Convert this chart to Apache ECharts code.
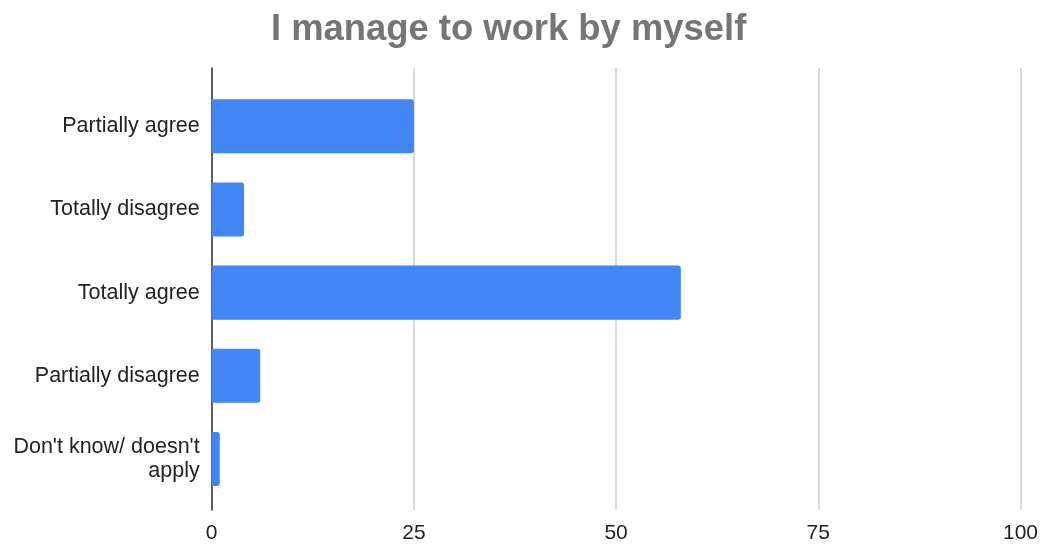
<!DOCTYPE html>
<html>
<head>
<meta charset="utf-8">
<script src="https://cdn.jsdelivr.net/npm/echarts@6/dist/echarts.min.js"></script>
<style>
  html, body { margin: 0; padding: 0; background: #fff; }
  #chart { width: 1043px; height: 544px; }
</style>
</head>
<body>
<div id="chart"></div>
<script>
// Survey answers and their counts
const categories = [
  "Partially agree",
  "Totally disagree",
  "Totally agree",
  "Partially disagree",
  "Don't know/ doesn't\napply"
];
const counts = [25, 4, 58, 6, 1];
const xTicks = [0, 25, 50, 75, 100];

const FONT = "'Liberation Sans', Arial, sans-serif";
const plotLeft = 211.7;
const plotRight = 22.5;

const chart = echarts.init(document.getElementById('chart'), null, { renderer: 'canvas' });

chart.setOption({
  backgroundColor: '#ffffff',
  animation: false,
  title: {
    text: 'I manage to work by myself',
    left: 271,
    top: 5,
    padding: [5, 0, 5, 0],
    textStyle: {
      fontFamily: FONT,
      fontSize: 36.4,
      fontWeight: 'bold',
      color: '#757575',
      lineHeight: 40
    }
  },
  grid: [
    // full chart area: gridlines, tick labels and the vertical axis line
    { left: plotLeft, right: plotRight, top: 68, bottom: 30, containLabel: false },
    // inner band area holding the bars
    { left: plotLeft, right: plotRight, top: 84.7, bottom: 43.4, containLabel: false }
  ],
  xAxis: [
    {
      gridIndex: 0,
      type: 'value',
      min: xTicks[0],
      max: xTicks[xTicks.length - 1],
      interval: xTicks[1] - xTicks[0],
      axisLine: { show: false },
      axisTick: { show: false },
      splitLine: { show: true, lineStyle: { color: '#cccccc', width: 1.5 } },
      axisLabel: {
        margin: 13,
        fontFamily: FONT,
        fontSize: 21,
        color: '#222222'
      }
    },
    {
      gridIndex: 1,
      type: 'value',
      min: xTicks[0],
      max: xTicks[xTicks.length - 1],
      show: false
    }
  ],
  yAxis: [
    {
      gridIndex: 0,
      type: 'value',
      min: 0,
      max: 1,
      axisLine: { show: true, onZero: false, lineStyle: { color: '#333333', width: 1.5 } },
      axisTick: { show: false },
      axisLabel: { show: false },
      splitLine: { show: false }
    },
    {
      gridIndex: 1,
      type: 'category',
      inverse: true,
      data: categories,
      axisLine: { show: false },
      axisTick: { show: false },
      axisLabel: {
        margin: 12,
        fontFamily: FONT,
        fontSize: 21.5,
        color: '#222222',
        lineHeight: 24,
        align: 'right'
      }
    }
  ],
  series: [
    {
      type: 'bar',
      xAxisIndex: 1,
      yAxisIndex: 1,
      data: counts,
      barCategoryGap: '35%',
      itemStyle: { color: '#4285F4', borderRadius: [0, 3, 3, 0] },
      z: 3
    }
  ]
});
</script>
</body>
</html>
